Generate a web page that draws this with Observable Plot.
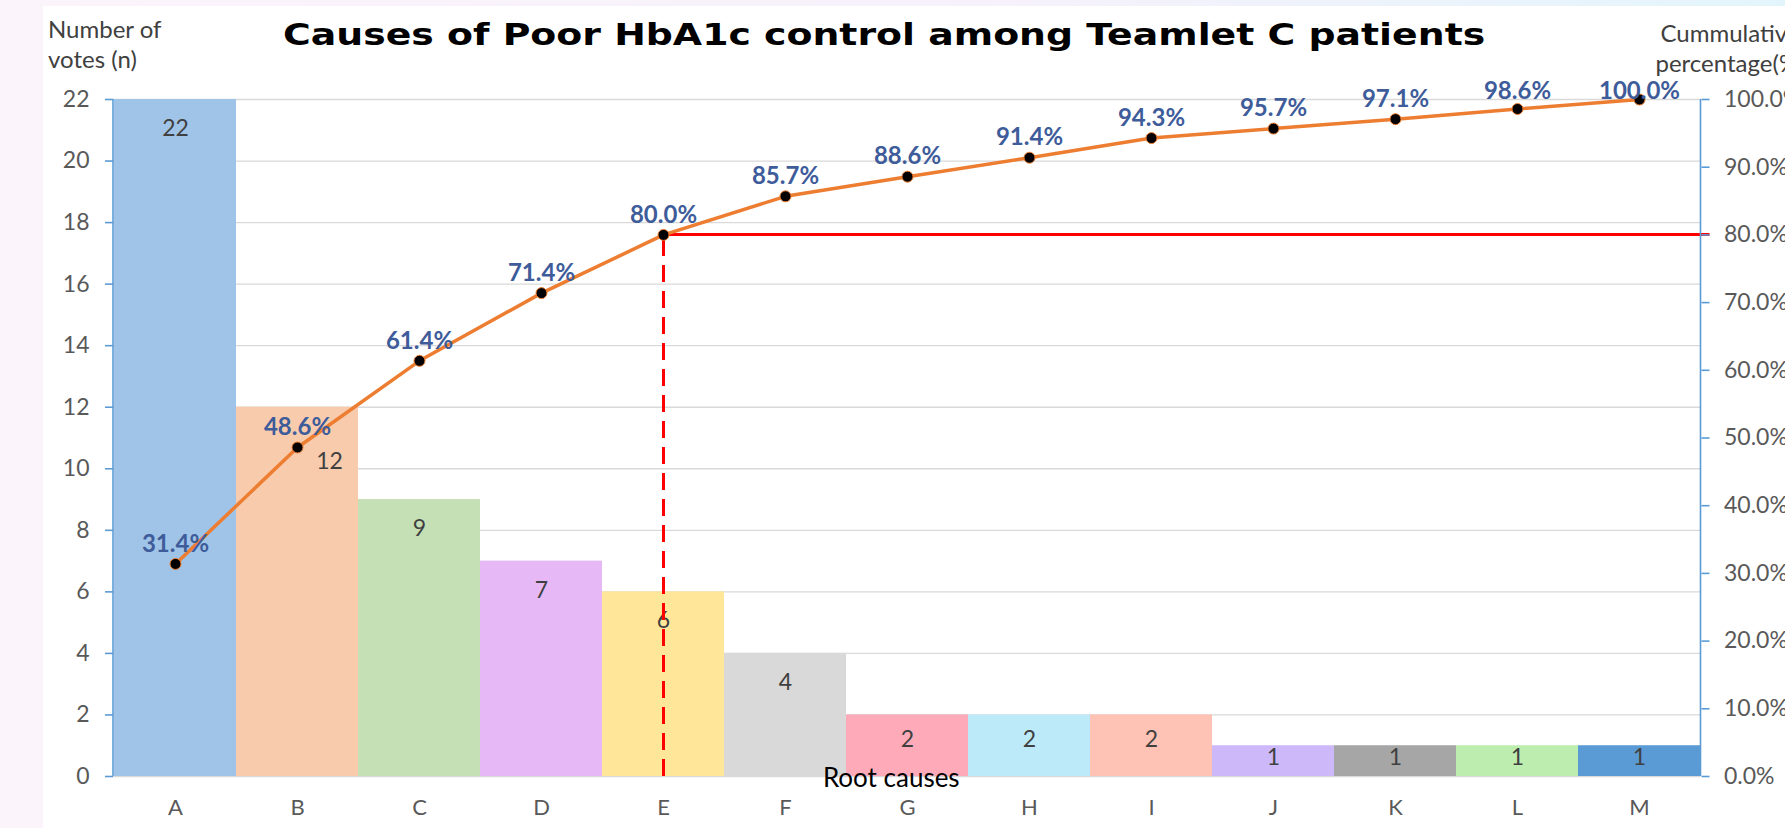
<!DOCTYPE html>
<html>
<head>
<meta charset="utf-8">
<script src="https://cdn.jsdelivr.net/npm/d3@7"></script>
<script src="https://cdn.jsdelivr.net/npm/@observablehq/plot@0.6"></script>
<style>
  html, body { margin: 0; padding: 0; width: 1785px; height: 828px; overflow: hidden; }
  body { background: linear-gradient(90deg, #fbf4fb 0%, #f7f1fb 55%, #e3f5fc 100%); position: relative; font-family: Lato, "Open Sans", sans-serif; }
  #paper { position: absolute; left: 43px; top: 6px; right: 0; bottom: 0; background: #fff; }
  #chart { position: absolute; left: 0; top: 0; }
  .t { position: absolute; white-space: nowrap; line-height: 1; }
  #title { left: 283px; top: 16px; font: bold 31px "DejaVu Sans", sans-serif; color: #000; transform: scaleX(1.22); transform-origin: 0 0; }
  #ytitle { left: 48px; top: 14px; font-size: 24px; line-height: 30px; color: #404040; }
  #y2title { left: 1645px; top: 18px; font-size: 24px; line-height: 30px; color: #404040; text-align: center; width: 170px; }
</style>
</head>
<body>
<div id="paper"></div>
<div id="chart"></div>
<script>
// ---- data ----
const categories = ["A","B","C","D","E","F","G","H","I","J","K","L","M"];
const votes = [22,12,9,7,6,4,2,2,2,1,1,1,1];
const cumulativePct = [31.4,48.6,61.4,71.4,80.0,85.7,88.6,91.4,94.3,95.7,97.1,98.6,100.0];
const barColors = ["#a0c4e7","#f8cbad","#c5e0b4","#e6b9f6","#ffe699","#d9d9d9","#ffaab9","#bdeaf9","#fec3b5","#cdb9fa","#a6a6a6","#bdeeb0","#5b9bd5"];
const leftTicks = [0,2,4,6,8,10,12,14,16,18,20,22];
const pctTicks = [0,10,20,30,40,50,60,70,80,90,100];
const cutoffPct = 80;
const cutoffCategory = "E";
const titleText = "Causes of Poor HbA1c control among Teamlet C patients";
const yTitleLines = ["Number of", "votes (n)"];
const y2TitleLines = ["Cummulative", "percentage(%)"];
const xTitleText = "Root causes";

const yMax = 22;
const K = yMax / 100; // maps percentage onto the left axis range
const data = categories.map((c, i) => ({cat: c, v: votes[i], cum: cumulativePct[i]}));

// value-label placement (inside end), nudged off the cumulative line when they would collide
const valueY = d => d.v - Math.min(0.95, 0.4 * d.v);
const collides = d => Math.abs(d.cum * K - valueY(d)) < 1.5;
const valueLabels = data.map(d => ({...d, ly: collides(d) ? d.cum * K - 0.45 : valueY(d), shift: collides(d)}));

// ---- text blocks ----
function addText(id, lines) {
  const d = document.createElement("div");
  d.id = id; d.className = "t";
  d.innerHTML = lines.map(s => s.replace(/&/g,"&amp;").replace(/</g,"&lt;")).join("<br>");
  document.body.appendChild(d);
}
addText("title", [titleText]);
addText("ytitle", yTitleLines);
addText("y2title", y2TitleLines);

// custom mark: axis lines + 80% cutoff line
function extras(index, scales, values, dims) {
  const g = d3.create("svg:g");
  const x = scales.x, y = scales.y;
  const bw = x("B") - x("A");
  const left = dims.marginLeft, right = dims.width - dims.marginRight;
  g.append("line")
    .attr("x1", x(cutoffCategory) + bw / 2).attr("x2", right + 9)
    .attr("y1", y(cutoffPct * K)).attr("y2", y(cutoffPct * K))
    .attr("stroke", "#ff0000").attr("stroke-width", 3);
  for (const xx of [left, right]) {
    g.append("line").attr("x1", xx).attr("x2", xx)
      .attr("y1", y(0)).attr("y2", y(yMax))
      .attr("stroke", "#5b9bd5").attr("stroke-width", 1.6);
  }
  return g.node();
}

const chart = Plot.plot({
  width: 1785,
  height: 828,
  marginLeft: 113,
  marginRight: 84.5,
  marginTop: 99,
  marginBottom: 52,
  style: {background: "transparent", fontFamily: "Lato, 'Open Sans', sans-serif", overflow: "visible"},
  x: {domain: categories, padding: 0, axis: null},
  y: {domain: [0, yMax], axis: null},
  color: {domain: categories, range: barColors},
  marks: [
    Plot.ruleY(leftTicks, {stroke: "#d9d9d9", strokeWidth: 1.3}),
    Plot.barY(data, {x: "cat", y: "v", fill: "cat"}),
    Plot.text(valueLabels.filter(d => !d.shift), {x: "cat", y: "ly", text: d => String(d.v), fill: "#404040", fontSize: 23}),
    Plot.text(valueLabels.filter(d => d.shift), {x: "cat", y: "ly", text: d => String(d.v), dx: 32, fill: "#404040", fontSize: 23}),
    Plot.ruleX([cutoffCategory], {y1: 0, y2: cutoffPct * K, stroke: "#ff0000", strokeWidth: 3, strokeDasharray: "17,9"}),
    extras,
    Plot.line(data, {x: "cat", y: d => d.cum * K, stroke: "#ed7d31", strokeWidth: 3.5}),
    Plot.dot(data, {x: "cat", y: d => d.cum * K, r: 5.5, fill: "#000", stroke: "#ed7d31", strokeWidth: 1}),
    Plot.text(data, {x: "cat", y: d => Math.min(d.cum * K + 0.65, yMax + 0.26), text: d => d.cum.toFixed(1) + "%", fill: "#3e5c9a", fontWeight: "bold", fontSize: 24}),
    Plot.axisY({anchor: "left", ticks: leftTicks, tickSize: 8, tickPadding: 16, fontSize: 23, color: "#595959", label: null}),
    Plot.axisY({anchor: "right", ticks: pctTicks.map(p => p * K), tickFormat: d => (d / K).toFixed(1) + "%", tickSize: 8, tickPadding: 15, fontSize: 23, color: "#595959", label: null}),
    Plot.axisX({anchor: "bottom", tickSize: 0, tickPadding: 23, fontSize: 22, color: "#595959", label: null}),
    Plot.text([xTitleText], {frameAnchor: "bottom", dx: -16, dy: 2, fontSize: 26, fill: "#000", lineAnchor: "middle"})
  ]
});
d3.select(chart).selectAll('g[aria-label="y-axis tick"]').attr("stroke", "#5b9bd5").attr("stroke-width", 1.6);
document.getElementById("chart").appendChild(chart);
</script>
</body>
</html>
